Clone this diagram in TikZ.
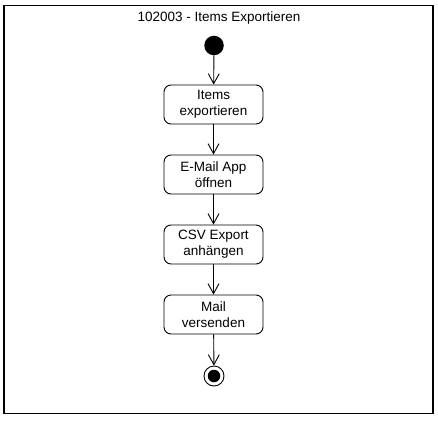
\documentclass[tikz,border=0pt]{standalone}
\usepackage{fontspec}
\setmainfont{Liberation Sans}
\usetikzlibrary{arrows.meta}
\begin{document}
\begin{tikzpicture}[x=1pt,y=-1pt,
  act/.style={draw,line width=0.9pt,rounded corners=7pt,minimum width=99pt,minimum height=39pt,inner sep=0pt,align=center,font=\fontsize{13.5}{16}\selectfont},
  flow/.style={draw,line width=0.9pt,-{Straight Barb[length=10pt,width=11pt,line width=0.9pt]}},
  lbl/.style={font=\fontsize{13.5}{16}\selectfont}]
\useasboundingbox (0,0) rectangle (438,420);
\node[draw,line width=1.1pt,minimum width=429pt,minimum height=408pt,inner sep=0pt] (frame) at (218.5,209.5) {};
\node[lbl] (title) at (219,18) {102003 - Items Exportieren};
\node[circle,fill=black,minimum size=19.5pt,inner sep=0pt] (start) at (214,45.5) {};
\node[act] (a1) at (213.5,104.5) {Items\\exportieren};
\node[act] (a2) at (213.5,174.5) {E-Mail App\\öffnen};
\node[act] (a3) at (213.5,244.5) {CSV Export\\anhängen};
\node[act] (a4) at (213.5,314.5) {Mail\\versenden};
\node[circle,draw,line width=0.9pt,minimum size=20pt,inner sep=0pt] (end) at (214,376) {};
\node[circle,fill=black,minimum size=12.5pt,inner sep=0pt] (endin) at (end.center) {};
\draw[flow] (start) -- (a1);
\draw[flow] (a1) -- (a2);
\draw[flow] (a2) -- (a3);
\draw[flow] (a3) -- (a4);
\draw[flow] (a4) -- (end);
\end{tikzpicture}
\end{document}
